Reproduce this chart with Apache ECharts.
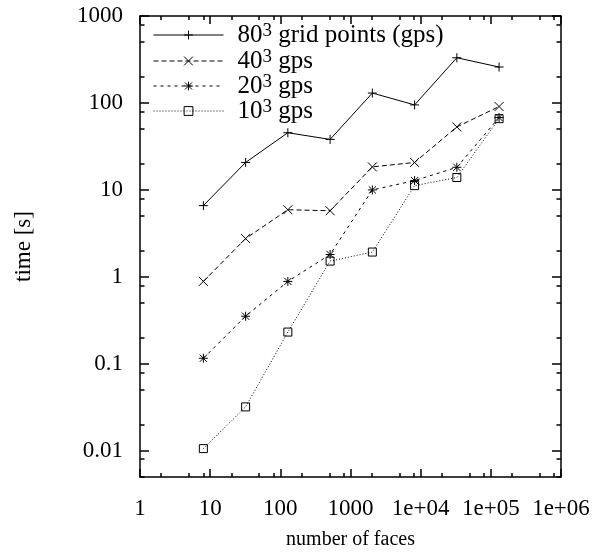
<!DOCTYPE html>
<html><head><meta charset="utf-8">
<script src="https://cdn.jsdelivr.net/npm/echarts@6/dist/echarts.min.js"></script>
<style>html,body{margin:0;padding:0;background:#fff}#c{width:609px;height:552px}</style>
</head><body><div id="c"></div>
<script>
// ---- data ----
const faces = [8, 32, 128, 512, 2048, 8192, 32768, 131072];
const gps80 = [6.6, 20.7, 45.5, 38.1, 130, 95, 331, 259];
const gps40 = [0.887, 2.76, 5.92, 5.76, 18.4, 20.7, 53, 91];
const gps20 = [0.116, 0.353, 0.887, 1.81, 10, 12.8, 18.2, 68];
const gps10 = [0.0106, 0.032, 0.232, 1.52, 1.93, 11.2, 13.9, 66];
const seriesNames = ['80^3 grid points (gps)', '40^3 gps', '20^3 gps', '10^3 gps'];
const xMajorTicks = [1, 10, 100, 1000, 1e4, 1e5, 1e6];
const yMajorTicks = [0.01, 0.1, 1, 10, 100, 1000];
const xTickLabels = ['1', '10', '100', '1000', '1e+04', '1e+05', '1e+06'];
const yTickLabels = ['0.01', '0.1', '1', '10', '100', '1000'];
const minorMantissas = [2, 5, 8];
const xDecades = [1, 10, 100, 1000, 1e4, 1e5];
const yDecades = [0.001, 0.01, 0.1, 1, 10, 100];

const FONT = 'Liberation Serif';
const FS_TICK = 23, FS_XNAME = 20, FS_YNAME = 23, FS_LEG = 25, FS_SUP = 19;
const LEG_ROWS = [35, 61, 86, 111];
const xMinor = [];
xDecades.forEach(d => minorMantissas.forEach(m => xMinor.push(m * d)));
const yMinor = [];
yDecades.forEach(d => minorMantissas.forEach(m => yMinor.push(m * d)));

const X_MIN = 1, X_MAX = 1e6, Y_MIN = 0.005, Y_MAX = 1000;
const black = '#000';
const FRAME_W = 1.5;

function findLabel(ticks, labels, v) {
  const i = ticks.findIndex(t => Math.abs(Math.log10(t) - Math.log10(v)) < 1e-6);
  return i >= 0 ? labels[i] : '';
}
function xAxisDef(position, ticks, len, withLine, withLabel) {
  return {
    type: 'log', min: X_MIN, max: X_MAX, position: position,
    axisLine: { show: withLine, lineStyle: { color: black, width: FRAME_W } },
    axisTick: { show: true, inside: true, length: len, customValues: ticks, lineStyle: { color: black, width: FRAME_W } },
    axisLabel: withLabel ? {
      show: true, customValues: xMajorTicks, margin: 20, color: black, fontFamily: FONT, fontSize: FS_TICK,
      formatter: v => findLabel(xMajorTicks, xTickLabels, v)
    } : { show: false },
    splitLine: { show: false }, minorTick: { show: false }, minorSplitLine: { show: false },
    name: withLabel ? 'number of faces' : '', nameLocation: 'middle', nameGap: 53,
    nameTextStyle: { color: black, fontFamily: FONT, fontSize: FS_XNAME }
  };
}
function yAxisDef(position, ticks, len, withLine, withLabel) {
  return {
    type: 'log', min: Y_MIN, max: Y_MAX, position: position,
    axisLine: { show: withLine, lineStyle: { color: black, width: FRAME_W } },
    axisTick: { show: true, inside: true, length: len, customValues: ticks, lineStyle: { color: black, width: FRAME_W } },
    axisLabel: withLabel ? {
      show: true, customValues: yMajorTicks, margin: 17, color: black, fontFamily: FONT, fontSize: FS_TICK,
      formatter: v => findLabel(yMajorTicks, yTickLabels, v)
    } : { show: false },
    splitLine: { show: false }, minorTick: { show: false }, minorSplitLine: { show: false },
    name: withLabel ? 'time [s]' : '', nameLocation: 'middle', nameGap: 105, nameRotate: 90,
    nameTextStyle: { color: black, fontFamily: FONT, fontSize: FS_YNAME }
  };
}

const symPlus = 'path://M0,5L10,5M5,0L5,10';
const symCross = 'path://M0,0L10,10M0,10L10,0';
const symStar = 'path://M0,5L10,5M5,0L5,10M1,1L9,9M1,9L9,1';
const symSquare = 'path://M0,0L10,0L10,10L0,10Z';

function mkSeries(name, vals, symbol, size, dash) {
  return {
    name: name, type: 'line', xAxisIndex: 0, yAxisIndex: 0,
    data: faces.map((x, i) => [x, vals[i]]),
    symbol: symbol, symbolSize: size, showSymbol: true,
    lineStyle: { color: black, width: 1, type: dash },
    itemStyle: { color: 'rgba(0,0,0,0)', borderColor: black, borderWidth: 1 },
    emphasis: { disabled: true }, silent: true, z: 3
  };
}

function legendDef(name, rowY) {
  return {
    orient: 'vertical', left: 153, top: rowY - 13, padding: 0,
    itemWidth: 70, itemHeight: 11, itemGap: 0,
    selectedMode: false, data: [name],
    lineStyle: { width: 1 },
    itemStyle: { borderWidth: 1, color: 'rgba(0,0,0,0)', borderColor: black },
    formatter: n => {
      const p = n.indexOf('^');
      return '{m|' + n.slice(0, p) + '}{s|' + n.charAt(p + 1) + '}{m|' + n.slice(p + 2) + '}';
    },
    textStyle: {
      color: black, fontFamily: FONT, fontSize: FS_LEG, padding: [0, 0, 0, 9],
      rich: {
        m: { color: black, fontFamily: FONT, fontSize: FS_LEG, lineHeight: 26 },
        s: { color: black, fontFamily: FONT, fontSize: FS_SUP, lineHeight: 2, verticalAlign: 'top' }
      }
    }
  };
}

const chart = echarts.init(document.getElementById('c'), null, { renderer: 'canvas' });
chart.setOption({
  animation: false,
  backgroundColor: '#fff',
  grid: { left: 140, top: 16, right: 48, bottom: 75, containLabel: false, outerBoundsMode: 'none' },
  xAxis: [
    xAxisDef('bottom', xMajorTicks, 8, true, true),
    xAxisDef('bottom', xMinor, 4, false, false),
    xAxisDef('top', xMajorTicks, 8, true, false),
    xAxisDef('top', xMinor, 4, false, false)
  ],
  yAxis: [
    yAxisDef('left', yMajorTicks, 9, true, true),
    yAxisDef('left', yMinor, 4.5, false, false),
    yAxisDef('right', yMajorTicks, 9, true, false),
    yAxisDef('right', yMinor, 4.5, false, false)
  ],
  legend: seriesNames.map((n, i) => legendDef(n, LEG_ROWS[i])),
  series: [
    mkSeries(seriesNames[0], gps80, symPlus, 9, 'solid'),
    mkSeries(seriesNames[1], gps40, symCross, 9, [5, 3]),
    mkSeries(seriesNames[2], gps20, symStar, 9, [3, 4]),
    mkSeries(seriesNames[3], gps10, symSquare, 8, [1, 2])
  ]
});
</script>
</body></html>
